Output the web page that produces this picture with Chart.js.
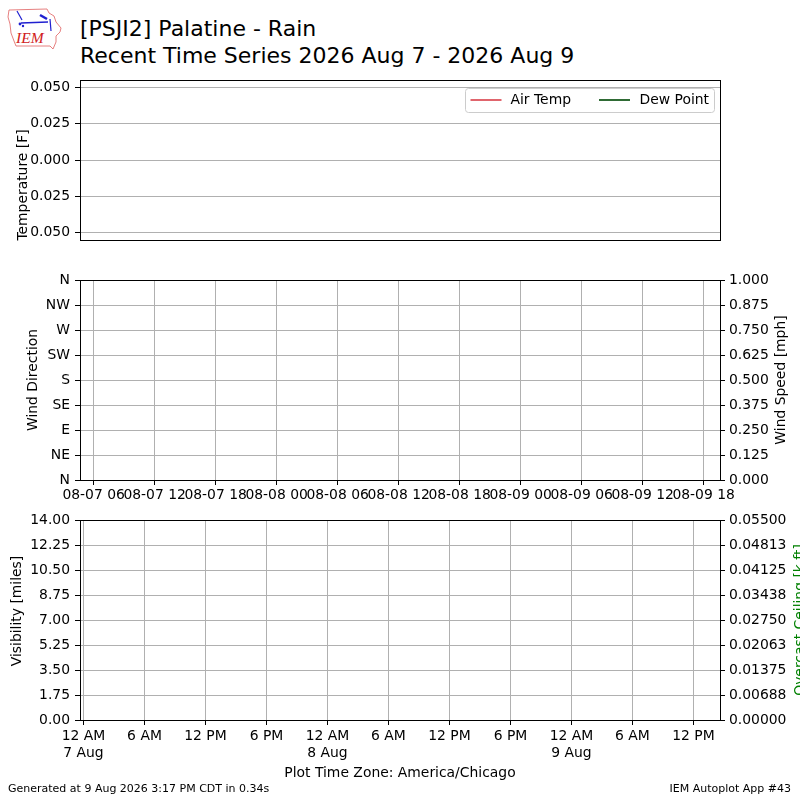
<!DOCTYPE html>
<html><head><meta charset="utf-8">
<script src="https://cdn.jsdelivr.net/npm/chart.js@4.4.1/dist/chart.umd.min.js"></script>
<style>
html,body{margin:0;padding:0;background:#fff;}
body{width:800px;height:800px;position:relative;overflow:hidden;font-family:"DejaVu Sans",sans-serif;}
canvas.p{position:absolute;left:0;}
.t{position:absolute;white-space:nowrap;line-height:1;color:#000;font-family:"DejaVu Sans",sans-serif;}
</style></head><body>
<svg style="position:absolute;left:0;top:0" width="70" height="56" viewBox="0 0 70 56">
  <path d="M9,10 L47,9 L49,13 L54,16 L56,22 L61,28 L60,32 L56,36 L56,42 L53,49 L50,46 L16,46 L14,41 L11,33 L10,24 L8,17 Z" fill="none" stroke="#e06060" stroke-width="0.8"/>
  <line x1="21" y1="23" x2="48" y2="22" stroke="#2020d0" stroke-width="1.6"/>
  <line x1="17" y1="11" x2="22" y2="20" stroke="#2020d0" stroke-width="1.2"/>
  <line x1="40" y1="15" x2="47" y2="19" stroke="#2020d0" stroke-width="2.4"/>
  <line x1="50" y1="19" x2="51" y2="31" stroke="#2020d0" stroke-width="1.2"/>
  <circle cx="20" cy="24" r="1.4" fill="#2020d0"/>
  <circle cx="23" cy="26" r="1.2" fill="#2020d0"/>
  <text x="16" y="43" font-family="Liberation Serif" font-style="italic" font-size="15.5" fill="#d02020">IEM</text>
</svg>
<div class="t" id="title1" style="left:80px;top:18px;font-size:22px;"></div>
<div class="t" id="title2" style="left:80px;top:45px;font-size:22px;"></div>
<canvas class="p" id="c1" width="800" height="194" style="top:66px"></canvas>
<canvas class="p" id="c2" width="800" height="244" style="top:266px"></canvas>
<canvas class="p" id="c3" width="800" height="264" style="top:506px"></canvas>
<div class="t" id="tz" style="left:0;width:800px;text-align:center;top:766px;font-size:13.9px;"></div>
<div class="t" id="gen" style="left:8px;top:782.7px;font-size:11px;"></div>
<div class="t" id="app" style="right:9px;top:782.7px;font-size:11px;"></div>
<script>
// ---------------- text ----------------
const titleLine1 = "[PSJI2] Palatine - Rain";
const titleLine2 = "Recent Time Series 2026 Aug 7 - 2026 Aug 9";
const tzText = "Plot Time Zone: America/Chicago";
const genText = "Generated at 9 Aug 2026 3:17 PM CDT in 0.34s";
const appText = "IEM Autoplot App #43";
const seriesLabels = ["Air Temp", "Dew Point"];
const seriesColors = ["#e0656d", "#2f6b35"];

// ---------------- data (hours after 7 Aug 00:00 local) ----------------
const airTemp = [];
const dewPoint = [];
const windDir = [];
const windSpeed = [];
const visibility = [];
const ceiling = [];

const xMin = -0.344;
const xMax = 62.61;
const localTickHours = [0, 6, 12, 18, 24, 30, 36, 42, 48, 54, 60];
const localTickLabels = [["12 AM","7 Aug"],"6 AM","12 PM","6 PM",["12 AM","8 Aug"],"6 AM","12 PM","6 PM",["12 AM","9 Aug"],"6 AM","12 PM"];
const utcTickHours = [1, 7, 13, 19, 25, 31, 37, 43, 49, 55, 61];
const utcTickLabels = ["08-07 06","08-07 12","08-07 18","08-08 00","08-08 06","08-08 12","08-08 18","08-09 00","08-09 06","08-09 12","08-09 18"];

const tempMin = -0.055, tempMax = 0.055;
const tempTickValues = [-0.05, -0.025, 0, 0.025, 0.05];
const tempTickLabels = ["0.050","0.025","0.000","0.025","0.050"];

const dirTickValues = [0, 45, 90, 135, 180, 225, 270, 315, 360];
const dirTickLabels = ["N","NE","E","SE","S","SW","W","NW","N"];
const speedTickValues = [0, 0.125, 0.25, 0.375, 0.5, 0.625, 0.75, 0.875, 1];
const speedTickLabels = ["0.000","0.125","0.250","0.375","0.500","0.625","0.750","0.875","1.000"];

const visTickValues = [0, 1.75, 3.5, 5.25, 7, 8.75, 10.5, 12.25, 14];
const visTickLabels = ["0.00","1.75","3.50","5.25","7.00","8.75","10.50","12.25","14.00"];
const ceilTickValues = [0, 0.006875, 0.01375, 0.020625, 0.0275, 0.034375, 0.04125, 0.048125, 0.055];
const ceilTickLabels = ["0.00000","0.00688","0.01375","0.02063","0.02750","0.03438","0.04125","0.04813","0.05500"];

const axisTitles = {
  temp: "Temperature [F]",
  dir: "Wind Direction",
  speed: "Wind Speed [mph]",
  vis: "Visibility [miles]",
  ceil: "Overcast Ceiling [k ft]"
};

// ---------------- page text ----------------
document.getElementById('title1').textContent = titleLine1;
document.getElementById('title2').textContent = titleLine2;
document.getElementById('tz').textContent = tzText;
document.getElementById('gen').textContent = genText;
document.getElementById('app').textContent = appText;

// ---------------- helpers ----------------
const FONT = "DejaVu Sans";
const TF = {family: FONT, size: 13.9, lineHeight: 1.2};
const GRID = '#b0b0b0';

function fixedTicks(values) {
  return function (scale) { scale.ticks = values.map(v => ({value: v})); };
}
function labelsFrom(arr) {
  return function (v, i) { return arr[i]; };
}
const framePlugin = {
  id: 'frame',
  afterDraw(chart) {
    const {ctx, chartArea: a} = chart;
    ctx.save();
    ctx.strokeStyle = '#000';
    ctx.lineWidth = 1;
    const l = Math.round(a.left) + 0.5, r = Math.round(a.right) + 0.5;
    const t = Math.round(a.top) + 0.5, b = Math.round(a.bottom) + 0.5;
    ctx.strokeRect(l, t, r - l, b - t);
    ctx.restore();
  }
};
function titlePlugin(items) {
  return {
    id: 'axisTitles',
    afterDraw(chart) {
      const ctx = chart.ctx;
      items.forEach(it => {
        ctx.save();
        ctx.translate(it.x, it.y);
        ctx.rotate(-Math.PI / 2);
        ctx.font = '13.9px "' + FONT + '"';
        ctx.fillStyle = it.color || '#000';
        ctx.textAlign = 'center';
        ctx.textBaseline = 'middle';
        ctx.fillText(it.text, 0, 0);
        ctx.restore();
      });
    }
  };
}
const legendPlugin = {
  id: 'mplLegend',
  afterDraw(chart) {
    const {ctx, chartArea: a} = chart;
    const ds = chart.data.datasets;
    const w = 249, h = 24;
    const x0 = Math.round(a.right - 6.5 - w) + 0.5, y0 = Math.round(a.top + 7.5) + 0.5;
    ctx.save();
    ctx.fillStyle = 'rgba(255,255,255,0.8)';
    ctx.strokeStyle = '#cccccc';
    ctx.lineWidth = 1;
    ctx.beginPath();
    ctx.roundRect(x0, y0, w, h, 3);
    ctx.fill();
    ctx.stroke();
    const offs = [[5, 45], [133.5, 174]];
    const cy = y0 + 11.5;
    ctx.font = '13.9px "' + FONT + '"';
    ctx.textBaseline = 'middle';
    ds.forEach((d, i) => {
      ctx.strokeStyle = d.borderColor;
      ctx.lineWidth = 2;
      ctx.beginPath();
      ctx.moveTo(x0 + offs[i][0], cy);
      ctx.lineTo(x0 + offs[i][0] + 31, cy);
      ctx.stroke();
      ctx.fillStyle = '#000';
      ctx.fillText(d.label, x0 + offs[i][1], cy);
    });
    ctx.restore();
  }
};

const common = {
  responsive: false,
  animation: false,
  devicePixelRatio: 1,
  plugins: {legend: {display: false}, tooltip: {enabled: false}},
  elements: {point: {radius: 0}}
};

function leftAxis(min, max, values, labels, grid) {
  return {
    type: 'linear', position: 'left', min, max,
    afterFit(s) { s.width = 80; },
    afterBuildTicks: fixedTicks(values),
    ticks: {autoSkip: false, font: TF, color: '#000', padding: 5, callback: labelsFrom(labels)},
    grid: {display: true, drawOnChartArea: grid, color: GRID, lineWidth: 1, tickColor: '#000', tickLength: 5},
    border: {display: false}
  };
}
function rightAxis(min, max, values, labels) {
  return {
    type: 'linear', position: 'right', min, max,
    afterFit(s) { s.width = 80; },
    afterBuildTicks: fixedTicks(values),
    ticks: {autoSkip: false, font: TF, color: '#000', padding: 4, callback: labelsFrom(labels)},
    grid: {display: true, drawOnChartArea: false, tickColor: '#000', tickLength: 5},
    border: {display: false}
  };
}
function bottomAxis(values, labels, height, pad) {
  return {
    type: 'linear', position: 'bottom', min: xMin, max: xMax,
    afterFit(s) { s.height = height; },
    afterBuildTicks: fixedTicks(values),
    ticks: {autoSkip: false, maxRotation: 0, minRotation: 0, font: TF, color: '#000', padding: pad, callback: labelsFrom(labels)},
    grid: {display: true, color: GRID, lineWidth: 1, tickColor: '#000', tickLength: 5},
    border: {display: false}
  };
}

// ---------------- Panel 1: temperature ----------------
new Chart(document.getElementById('c1'), {
  type: 'line',
  data: {datasets: [
    {label: seriesLabels[0], data: airTemp, borderColor: seriesColors[0], borderWidth: 2},
    {label: seriesLabels[1], data: dewPoint, borderColor: seriesColors[1], borderWidth: 2}
  ]},
  options: Object.assign({}, common, {
    layout: {padding: {top: 14, bottom: 20, left: 0, right: 80}},
    scales: {
      x: {type: 'linear', display: false, min: xMin, max: xMax},
      y: leftAxis(tempMin, tempMax, tempTickValues, tempTickLabels, true)
    }
  }),
  plugins: [framePlugin, legendPlugin, titlePlugin([{text: axisTitles.temp, x: 23, y: 119}])]
});

// ---------------- Panel 2: wind ----------------
new Chart(document.getElementById('c2'), {
  type: 'line',
  data: {datasets: [
    {label: 'Wind Direction', data: windDir, yAxisID: 'y', borderColor: '#000', showLine: false},
    {label: 'Wind Speed', data: windSpeed, yAxisID: 'y2', borderColor: '#00f'}
  ]},
  options: Object.assign({}, common, {
    layout: {padding: {top: 14, bottom: 0, left: 0, right: 0}},
    scales: {
      x: bottomAxis(utcTickHours, utcTickLabels, 30, 2),
      y: leftAxis(0, 360, dirTickValues, dirTickLabels, true),
      y2: rightAxis(0, 1, speedTickValues, speedTickLabels)
    }
  }),
  plugins: [framePlugin, titlePlugin([
    {text: axisTitles.dir, x: 33, y: 114},
    {text: axisTitles.speed, x: 781, y: 114}
  ])]
});

// ---------------- Panel 3: visibility / ceiling ----------------
new Chart(document.getElementById('c3'), {
  type: 'line',
  data: {datasets: [
    {label: 'Visibility', data: visibility, yAxisID: 'y', borderColor: '#000'},
    {label: 'Overcast Ceiling', data: ceiling, yAxisID: 'y2', borderColor: 'green'}
  ]},
  options: Object.assign({}, common, {
    layout: {padding: {top: 14, bottom: 0, left: 0, right: 0}},
    scales: {
      x: bottomAxis(localTickHours, localTickLabels, 50, 3),
      y: leftAxis(0, 14, visTickValues, visTickLabels, true),
      y2: rightAxis(0, 0.055, ceilTickValues, ceilTickLabels)
    }
  }),
  plugins: [framePlugin, titlePlugin([
    {text: axisTitles.vis, x: 17, y: 105},
    {text: axisTitles.ceil, x: 800, y: 114, color: 'green'}
  ])]
});
</script>
</body></html>
